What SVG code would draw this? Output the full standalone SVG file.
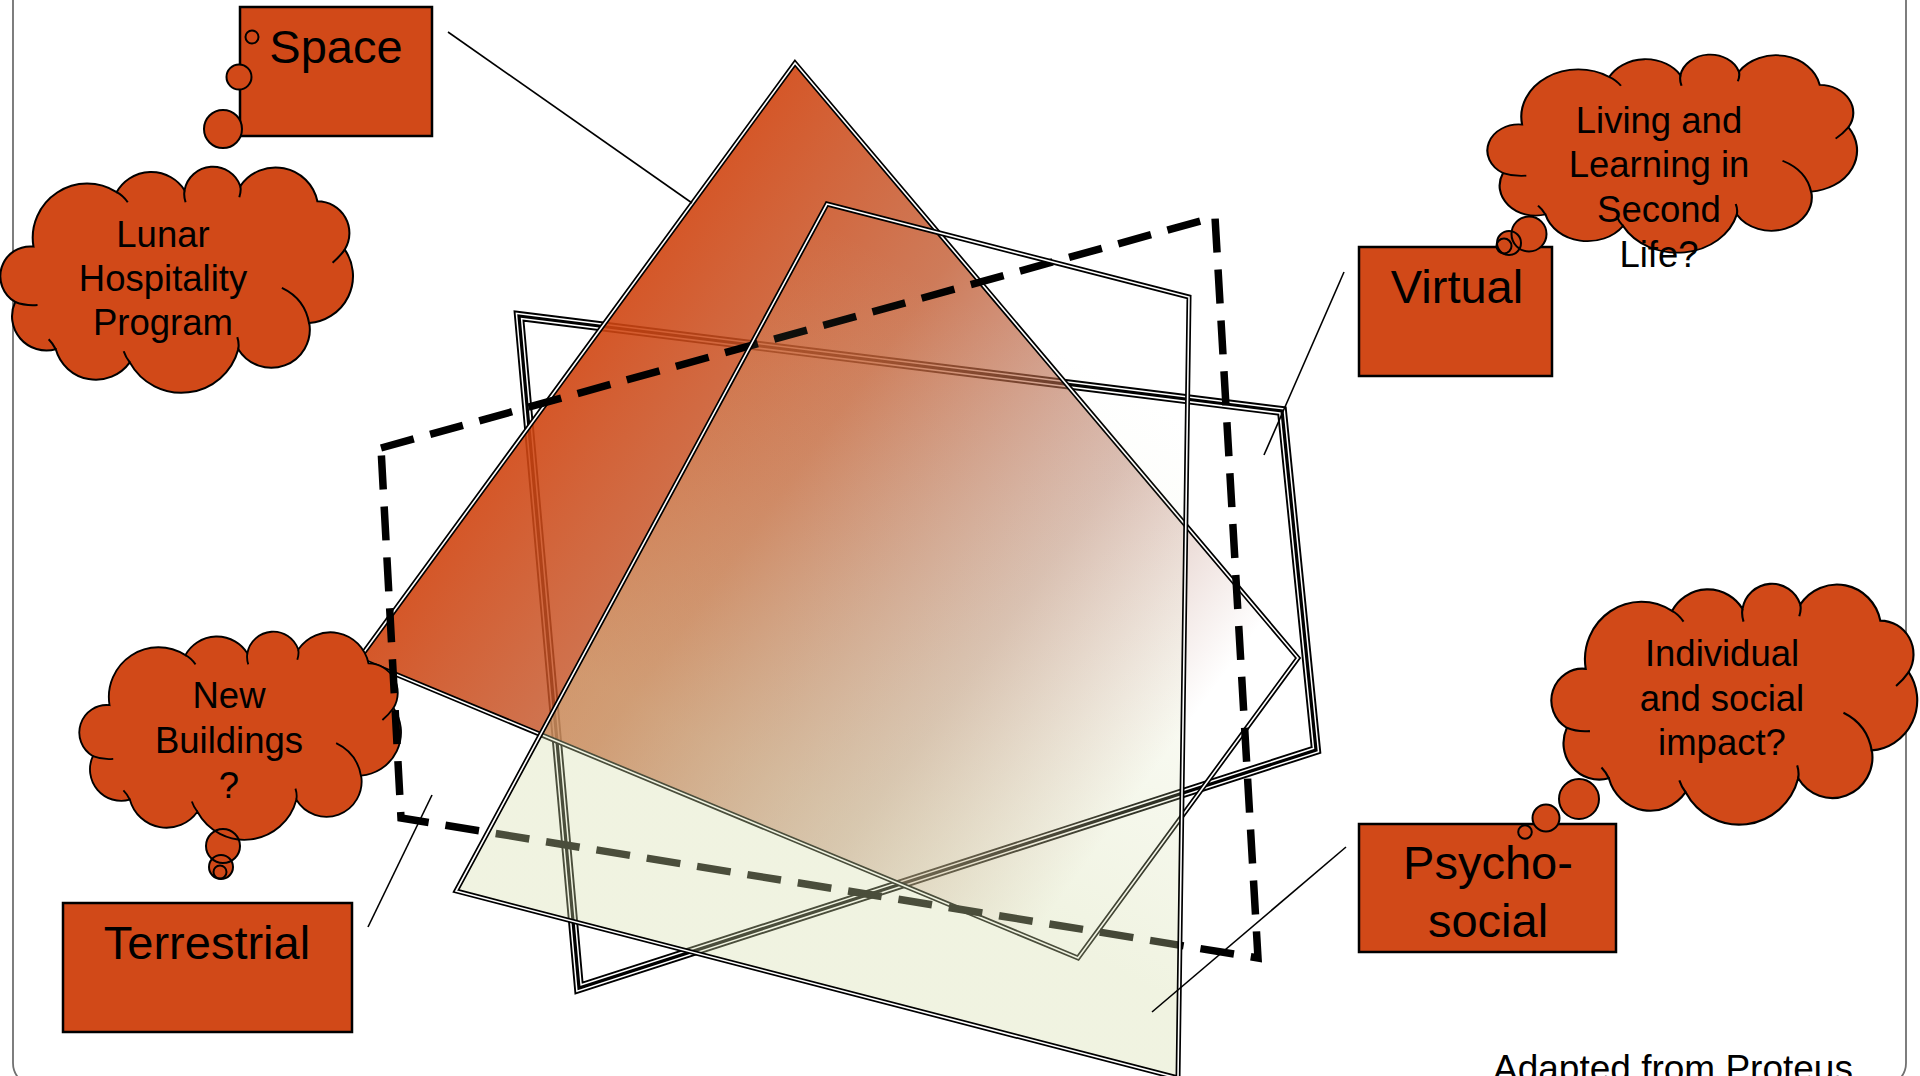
<svg xmlns="http://www.w3.org/2000/svg" xmlns:xlink="http://www.w3.org/1999/xlink" width="1920" height="1076" viewBox="0 0 1920 1076">
<defs>
<style>
.box{fill:#D14918;stroke:#000;stroke-width:2.5}
.cf{fill:#D14918;stroke:none}
.cs{fill:none;stroke:#000;stroke-width:2}
.conn{fill:none;stroke:#000;stroke-width:1.6}
text{font-family:"Liberation Sans",Arial,sans-serif;fill:#000;text-anchor:middle}
.big{font-size:47px}
.mid{font-size:36.5px}
.frame{fill:none;stroke:#707070;stroke-width:1.8}
</style>
<linearGradient id="gA" gradientUnits="userSpaceOnUse" x1="560" y1="380" x2="1177" y2="830">
<stop offset="0" stop-color="#D04410" stop-opacity="0.9"/>
<stop offset="0.32" stop-color="#C25A30" stop-opacity="0.8"/>
<stop offset="0.66" stop-color="#AF6F59" stop-opacity="0.46"/>
<stop offset="0.93" stop-color="#B07060" stop-opacity="0"/>
</linearGradient>
<linearGradient id="gB" gradientUnits="userSpaceOnUse" x1="1150" y1="400" x2="900" y2="850">
<stop offset="0" stop-color="#D4DDA9" stop-opacity="0"/>
<stop offset="0.5" stop-color="#D4DDA9" stop-opacity="0.15"/>
<stop offset="1" stop-color="#D4DDA9" stop-opacity="0.35"/>
</linearGradient>
<path id="cloudShape" d="M15,135 A29.6,29.6 0 0 1 33,80 A53.7,53.7 0 0 1 115,26 A39,39 0 0 1 182,24 A28.5,28.5 0 0 1 237,20 A42,42 0 0 1 313,35 A31.6,31.6 0 0 1 340,83 A46.8,46.8 0 0 1 305,156 A38,38 0 0 1 235,182 A58,58 0 0 1 128,195 A41,41 0 0 1 55,182 A34,34 0 0 1 15,135 Z"/>
<path id="cloudCrease" d="M15,135 Q25,139 37,138 M115,26 Q121,29 126,36 M182,24 Q181,30 183,36 M237,20 Q238,25 236,31 M340,83 Q335,90 328,96 M278,121 Q301,132 305,157 M235,182 Q236,176 234,170 M128,195 Q124,190 122,184 M55,182 Q52,176 48,172"/>
</defs>

<rect class="frame" x="13" y="-40" width="1893" height="1126" rx="23"/>

<g id="shapes">
<g id="square-triple">
<path d="M519,316 L1282,411 L1316,750 L579,988 Z" fill="none" stroke="#000" stroke-width="10" stroke-linejoin="miter"/>
<path d="M519,316 L1282,411 L1316,750 L579,988 Z" fill="none" stroke="#fff" stroke-width="6.2" stroke-linejoin="miter"/>
<path d="M519,316 L1282,411 L1316,750 L579,988 Z" fill="none" stroke="#000" stroke-width="3.2" stroke-linejoin="miter"/>
</g>
<g id="kite">
<path d="M795,63 L1298,658 L1078,958 L359,659 Z" fill="url(#gA)" stroke="#000" stroke-width="5" stroke-linejoin="miter"/>
<path d="M795,63 L1298,658 L1078,958 L359,659 Z" fill="none" stroke="#fff" stroke-width="1.6" stroke-linejoin="miter"/>
</g>
</g>

<g id="cloud-new-buildings">
<g transform="translate(79,631) scale(0.925,0.927)">
<use xlink:href="#cloudShape" class="cf"/>
</g>
<circle class="cf" cx="223" cy="846" r="17"/>
<circle class="cf" cx="221" cy="867" r="12"/>
<circle class="cf" cx="220" cy="872" r="6.5"/>
<g transform="translate(79,631) scale(0.925,0.927)">
<use xlink:href="#cloudShape" class="cs" vector-effect="non-scaling-stroke"/>
<use xlink:href="#cloudCrease" class="cs" vector-effect="non-scaling-stroke"/>
</g>
<circle class="cs" cx="223" cy="846" r="17"/>
<circle class="cs" cx="221" cy="867" r="12"/>
<circle class="cs" cx="220" cy="872" r="6.5"/>
<text class="mid" x="229" y="708">New</text>
<text class="mid" x="229" y="753">Buildings</text>
<text class="mid" x="229" y="798">?</text>
</g>

<g id="square-dashed">
<path d="M381,448 L1215,217 L1258,958 L401,818 Z" fill="none" stroke="#000" stroke-width="7.5" stroke-dasharray="34 17" stroke-linejoin="miter"/>
</g>

<g id="square-pale">
<path d="M827,204 L1189,297 L1178,1078 L456,891 Z" fill="url(#gB)" stroke="#000" stroke-width="5" stroke-linejoin="miter"/>
<path d="M827,204 L1189,297 L1178,1078 L456,891 Z" fill="none" stroke="#fff" stroke-width="1.6" stroke-linejoin="miter"/>
</g>

<g id="connectors">
<line class="conn" x1="448" y1="32" x2="692" y2="203"/>
<line class="conn" x1="1344" y1="272" x2="1264" y2="455"/>
<line class="conn" x1="368" y1="927" x2="432" y2="795"/>
<line class="conn" x1="1346" y1="847" x2="1152" y2="1012"/>
</g>

<g id="box-space">
<rect class="box" x="240" y="7" width="192" height="129"/>
<text class="big" x="336" y="63">Space</text>
</g>

<g id="box-virtual">
<rect class="box" x="1359" y="247" width="193" height="129"/>
<text class="big" x="1457" y="303">Virtual</text>
</g>

<g id="box-terrestrial">
<rect class="box" x="63" y="903" width="289" height="129"/>
<text class="big" x="207" y="959">Terrestrial</text>
</g>

<g id="box-psychosocial">
<rect class="box" x="1359" y="824" width="257" height="128"/>
<text class="big" x="1488" y="879">Psycho-</text>
<text class="big" x="1488" y="937">social</text>
</g>

<g id="cloud-lunar">
<g transform="translate(0,166) scale(1.014,1.007)">
<use xlink:href="#cloudShape" class="cf"/>
</g>
<circle class="cf" cx="252" cy="37" r="6.5"/>
<circle class="cf" cx="239" cy="77" r="12.5"/>
<circle class="cf" cx="223" cy="129" r="19"/>
<g transform="translate(0,166) scale(1.014,1.007)">
<use xlink:href="#cloudShape" class="cs" vector-effect="non-scaling-stroke"/>
<use xlink:href="#cloudCrease" class="cs" vector-effect="non-scaling-stroke"/>
</g>
<circle class="cs" cx="252" cy="37" r="6.5"/>
<circle class="cs" cx="239" cy="77" r="12.5"/>
<circle class="cs" cx="223" cy="129" r="19"/>
<text class="mid" x="163" y="247">Lunar</text>
<text class="mid" x="163" y="291">Hospitality</text>
<text class="mid" x="163" y="335">Program</text>
</g>

<g id="cloud-living">
<g transform="translate(1487,54) scale(1.063,0.882)">
<use xlink:href="#cloudShape" class="cf"/>
</g>
<circle class="cf" cx="1529" cy="234" r="17.5"/>
<circle class="cf" cx="1509" cy="243" r="12"/>
<circle class="cf" cx="1504" cy="246" r="7.5"/>
<g transform="translate(1487,54) scale(1.063,0.882)">
<use xlink:href="#cloudShape" class="cs" vector-effect="non-scaling-stroke"/>
<use xlink:href="#cloudCrease" class="cs" vector-effect="non-scaling-stroke"/>
</g>
<circle class="cs" cx="1529" cy="234" r="17.5"/>
<circle class="cs" cx="1509" cy="243" r="12"/>
<circle class="cs" cx="1504" cy="246" r="7.5"/>
<text class="mid" x="1659" y="133">Living and</text>
<text class="mid" x="1659" y="177">Learning in</text>
<text class="mid" x="1659" y="222">Second</text>
<text class="mid" x="1659" y="267">Life?</text>
</g>

<g id="cloud-individual">
<g transform="translate(1551,583) scale(1.052,1.073)">
<use xlink:href="#cloudShape" class="cf"/>
</g>
<circle class="cf" cx="1579" cy="799" r="20"/>
<circle class="cf" cx="1546" cy="818" r="13.5"/>
<circle class="cf" cx="1525" cy="832" r="6.8"/>
<g transform="translate(1551,583) scale(1.052,1.073)">
<use xlink:href="#cloudShape" class="cs" vector-effect="non-scaling-stroke"/>
<use xlink:href="#cloudCrease" class="cs" vector-effect="non-scaling-stroke"/>
</g>
<circle class="cs" cx="1579" cy="799" r="20"/>
<circle class="cs" cx="1546" cy="818" r="13.5"/>
<circle class="cs" cx="1525" cy="832" r="6.8"/>
<text class="mid" x="1722" y="666">Individual</text>
<text class="mid" x="1722" y="711">and social</text>
<text class="mid" x="1722" y="755">impact?</text>
</g>

<text x="1673" y="1081" style="font-size:37px">Adapted from Proteus</text>
</svg>
